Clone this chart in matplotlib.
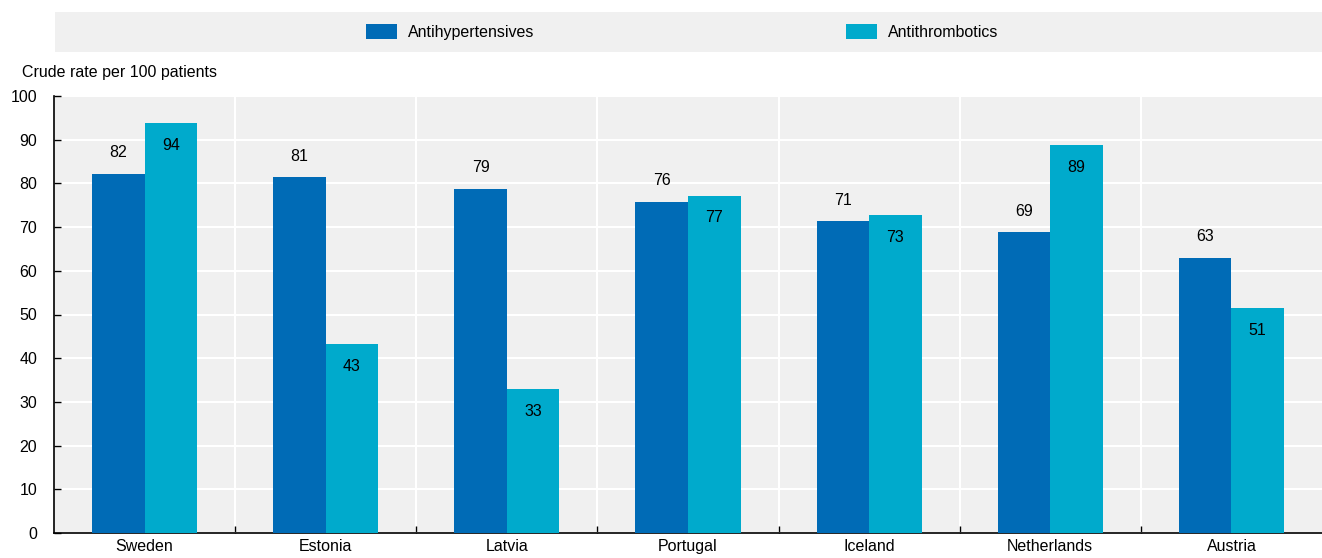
import matplotlib.pyplot as plt
import matplotlib.patches as mpatches
import numpy as np

countries = ["Sweden", "Estonia", "Latvia", "Portugal", "Iceland", "Netherlands", "Austria"]
antihyp = [82.2, 81.4, 78.8, 75.8, 71.4, 68.8, 63.0]
antithr = [93.8, 43.3, 33.0, 77.2, 72.8, 88.7, 51.4]
series_names = ["Antihypertensives", "Antithrombotics"]

plt.rcParams['font.family'] = ['Liberation Sans', 'DejaVu Sans']
fs = 11.5

dark = "#006bb6"
light = "#00aacc"
bg = "#f0f0f0"

fig = plt.figure(figsize=(13.22, 5.58), dpi=100)
ax = fig.add_axes([54 / 1322, 1 - 533 / 558, 1 - 54 / 1322, (533 - 96) / 558])
ax.set_facecolor(bg)

x = np.arange(len(countries))
w = 0.29
b1 = ax.bar(x - w / 2, antihyp, w, color=dark, label=series_names[0], zorder=3)
b2 = ax.bar(x + w / 2, antithr, w, color=light, label=series_names[1], zorder=3)

for r, v in zip(b1, antihyp):
    ax.annotate(f"{v:.0f}", (r.get_x() + r.get_width() / 2, v), xytext=(0, 15),
                textcoords="offset points", ha="center", va="center", fontsize=fs, zorder=4)
for r, v in zip(b2, antithr):
    ax.annotate(f"{v:.0f}", (r.get_x() + r.get_width() / 2, v), xytext=(0, -16),
                textcoords="offset points", ha="center", va="center", fontsize=fs, zorder=4)

ax.set_xlim(-0.5, len(countries) - 0.5)
ax.set_ylim(0, 100)
ax.set_yticks(np.arange(0, 101, 10))
ax.set_xticks(x)
ax.set_xticklabels(countries, fontsize=fs)
ax.set_xticks(np.arange(0.5, len(countries) - 0.5, 1), minor=True)
ax.tick_params(axis="x", which="major", length=0, pad=4)
ax.tick_params(axis="x", which="minor", direction="in", length=5, width=1)
ax.tick_params(axis="y", direction="in", length=5, width=1, labelsize=fs, pad=12)

ax.grid(True, axis="y", color="white", linewidth=1.5, zorder=1)
ax.grid(True, axis="x", which="minor", color="white", linewidth=1.5, zorder=1)
ax.set_axisbelow(True)
for s in ["top", "right"]:
    ax.spines[s].set_visible(False)
ax.spines["left"].set_linewidth(1.2)
ax.spines["bottom"].set_linewidth(1.2)

fig.text(22 / 1322, 1 - 73 / 558, "Crude rate per 100 patients", fontsize=fs, va="center", ha="left")

# legend band
fig.patches.append(mpatches.Rectangle((55 / 1322, 1 - 52 / 558), 1 - 55 / 1322, 40 / 558,
                                      transform=fig.transFigure, facecolor=bg, edgecolor="none", zorder=0))
fig.legend(handles=[b1, b2], labels=series_names, loc="center", bbox_to_anchor=(682 / 1322, 1 - 32 / 558),
           ncol=2, frameon=False, fontsize=fs, handlelength=1.95, handleheight=1.05,
           handletextpad=0.7, columnspacing=19.5)

fig.savefig("out.png", dpi=100)
